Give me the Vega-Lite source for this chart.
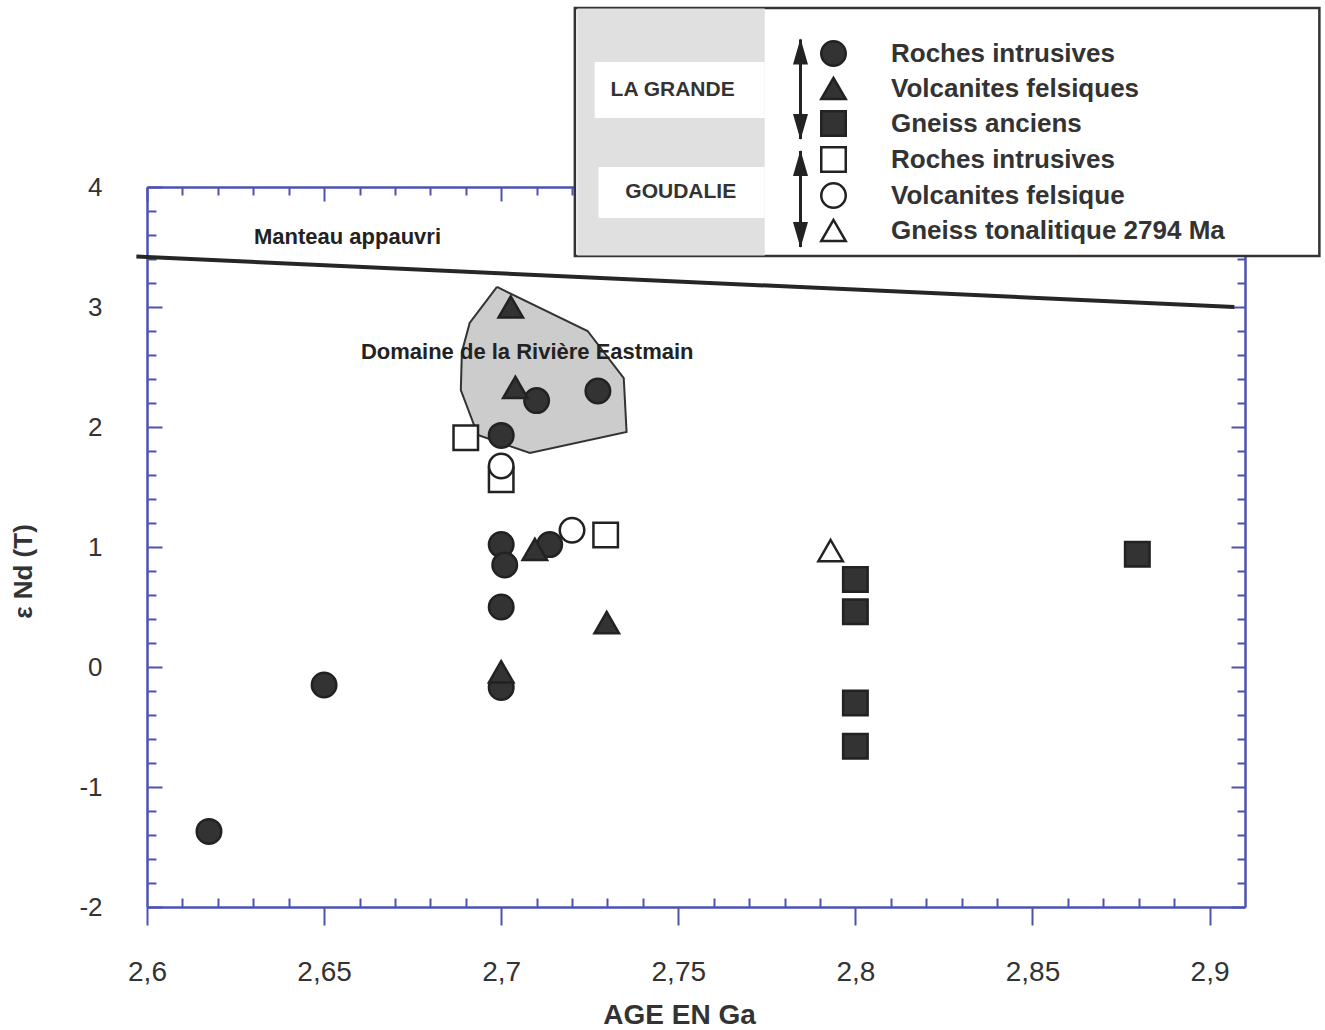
{
  "$schema": "https://vega.github.io/schema/vega-lite/v6.json",
  "width": 1098,
  "height": 720,
  "autosize": "none",
  "padding": {"left": 147, "top": 187, "right": 80, "bottom": 123},
  "background": "white",
  "config": {
    "view": {"stroke": null},
    "font": "Liberation Sans",
    "axis": {"grid": false, "labelFont": "Liberation Sans", "titleFont": "Liberation Sans", "domainColor": "#4b52b3", "tickColor": "#4b52b3", "domainWidth": 2.5, "tickWidth": 2},
    "legend": {"orient": "none", "legendX": 673, "legendY": -147, "direction": "vertical", "title": null, "padding": 0, "labelFont": "Liberation Sans", "labelFontSize": 26, "labelFontWeight": "bold", "labelColor": "#333333", "labelOffset": 44, "labelLimit": 0, "symbolSize": 600, "symbolStrokeWidth": 2.5, "rowPadding": 1}
  },
  "datasets": {
    "points": [
      {"age": 2.6175, "end": -1.37, "type": "LG|Roches intrusives"},
      {"age": 2.65, "end": -0.15, "type": "LG|Roches intrusives"},
      {"age": 2.7, "end": 1.93, "type": "LG|Roches intrusives"},
      {"age": 2.71, "end": 2.22, "type": "LG|Roches intrusives"},
      {"age": 2.7273, "end": 2.30, "type": "LG|Roches intrusives"},
      {"age": 2.7, "end": 1.02, "type": "LG|Roches intrusives"},
      {"age": 2.701, "end": 0.85, "type": "LG|Roches intrusives"},
      {"age": 2.7, "end": 0.5, "type": "LG|Roches intrusives"},
      {"age": 2.7, "end": -0.17, "type": "LG|Roches intrusives"},
      {"age": 2.7137, "end": 1.02, "type": "LG|Roches intrusives"},
      {"age": 2.7027, "end": 3.0, "type": "LG|Volcanites felsiques"},
      {"age": 2.704, "end": 2.33, "type": "LG|Volcanites felsiques"},
      {"age": 2.7095, "end": 0.98, "type": "LG|Volcanites felsiques"},
      {"age": 2.7298, "end": 0.37, "type": "LG|Volcanites felsiques"},
      {"age": 2.7, "end": -0.04, "type": "LG|Volcanites felsiques"},
      {"age": 2.8, "end": 0.73, "type": "LG|Gneiss anciens"},
      {"age": 2.8, "end": 0.46, "type": "LG|Gneiss anciens"},
      {"age": 2.8, "end": -0.30, "type": "LG|Gneiss anciens"},
      {"age": 2.8, "end": -0.66, "type": "LG|Gneiss anciens"},
      {"age": 2.8796, "end": 0.94, "type": "LG|Gneiss anciens"},
      {"age": 2.69, "end": 1.91, "type": "GO|Roches intrusives"},
      {"age": 2.7, "end": 1.56, "type": "GO|Roches intrusives"},
      {"age": 2.7295, "end": 1.10, "type": "GO|Roches intrusives"},
      {"age": 2.7, "end": 1.675, "type": "GO|Volcanites felsique"},
      {"age": 2.72, "end": 1.14, "type": "GO|Volcanites felsique"},
      {"age": 2.793, "end": 0.97, "type": "GO|Gneiss tonalitique 2794 Ma"}
    ],
    "domaine": [
      {"i": 0, "age": 2.6988, "end": 3.167},
      {"i": 1, "age": 2.7244, "end": 2.80},
      {"i": 2, "age": 2.7346, "end": 2.408},
      {"i": 3, "age": 2.7354, "end": 1.958},
      {"i": 4, "age": 2.7081, "end": 1.783},
      {"i": 5, "age": 2.6934, "end": 1.933},
      {"i": 6, "age": 2.6886, "end": 2.308},
      {"i": 7, "age": 2.6889, "end": 2.625},
      {"i": 8, "age": 2.6911, "end": 2.867},
      {"i": 9, "age": 2.6988, "end": 3.167}
    ],
    "manteau": [
      {"age": 2.597, "end": 3.42},
      {"age": 2.907, "end": 3.0}
    ],
    "notes": [
      {"age": 2.6302, "end": 3.58, "label": "Manteau appauvri"},
      {"age": 2.6604, "end": 2.625, "label": "Domaine de la Rivière Eastmain"}
    ],
    "box": [
      {"part": "frame", "x1": 2.7208, "x2": 2.931, "y1": 3.425, "y2": 5.492},
      {"part": "column", "x1": 2.7215, "x2": 2.7744, "y1": 3.43, "y2": 5.487},
      {"part": "blank", "x1": 2.7264, "x2": 2.7744, "y1": 4.575, "y2": 5.042},
      {"part": "blank", "x1": 2.7275, "x2": 2.7744, "y1": 3.742, "y2": 4.167}
    ],
    "groups": [
      {"age": 2.7484, "end": 4.808, "label": "LA GRANDE"},
      {"age": 2.7507, "end": 3.958, "label": "GOUDALIE"}
    ],
    "arrows": [
      {"age": 2.7845, "top": 5.23, "bottom": 4.40},
      {"age": 2.7845, "top": 4.30, "bottom": 3.50}
    ]
  },
  "resolve": {"axis": {"x": "independent", "y": "independent"}},
  "layer": [
    {
      "data": {"name": "domaine"},
      "mark": {"type": "line", "fill": "#cccccc", "stroke": "#333333", "strokeWidth": 2, "interpolate": "linear"},
      "encoding": {
        "x": {"field": "age", "type": "quantitative", "scale": {"domain": [2.6, 2.91], "nice": false, "zero": false},
          "axis": {"orient": "bottom", "values": [2.61,2.62,2.63,2.64,2.66,2.67,2.68,2.69,2.71,2.72,2.73,2.74,2.76,2.77,2.78,2.79,2.81,2.82,2.83,2.84,2.86,2.87,2.88,2.89], "tickSize": -9, "labels": false, "domain": false, "title": null}},
        "y": {"field": "end", "type": "quantitative", "scale": {"domain": [-2, 4], "nice": false, "zero": false},
          "axis": {"orient": "left", "values": [-1.8,-1.6,-1.4,-1.2,-0.8,-0.6,-0.4,-0.2,0.2,0.4,0.6,0.8,1.2,1.4,1.6,1.8,2.2,2.4,2.6,2.8,3.2,3.4,3.6,3.8], "tickSize": -9, "labels": false, "domain": false, "title": null}},
        "order": {"field": "i", "type": "quantitative"}
      }
    },
    {
      "data": {"name": "notes"},
      "mark": {"type": "text", "align": "left", "baseline": "middle", "font": "Liberation Sans", "fontSize": 22, "fontWeight": "bold", "color": "#222222"},
      "encoding": {
        "x": {"field": "age", "type": "quantitative", "scale": {"domain": [2.6, 2.91], "nice": false, "zero": false},
          "axis": {"orient": "top", "values": [2.61,2.62,2.63,2.64,2.66,2.67,2.68,2.69,2.71,2.72,2.73,2.74,2.76,2.77,2.78,2.79,2.81,2.82,2.83,2.84,2.86,2.87,2.88,2.89], "tickSize": -8, "labels": false, "domain": false, "title": null}},
        "y": {"field": "end", "type": "quantitative", "scale": {"domain": [-2, 4], "nice": false, "zero": false},
          "axis": {"orient": "right", "values": [-1.8,-1.6,-1.4,-1.2,-0.8,-0.6,-0.4,-0.2,0.2,0.4,0.6,0.8,1.2,1.4,1.6,1.8,2.2,2.4,2.6,2.8,3.2,3.4,3.6,3.8], "tickSize": -8, "labels": false, "domain": false, "title": null}},
        "text": {"field": "label"}
      }
    },
    {
      "data": {"name": "manteau"},
      "mark": {"type": "line", "color": "#262626", "strokeWidth": 4, "clip": false},
      "encoding": {
        "x": {"field": "age", "type": "quantitative", "scale": {"domain": [2.6, 2.91], "nice": false, "zero": false},
          "axis": {"orient": "top", "values": [2.6,2.65,2.7,2.75,2.8,2.85,2.9], "tickSize": -14, "labels": false, "title": null}},
        "y": {"field": "end", "type": "quantitative", "scale": {"domain": [-2, 4], "nice": false, "zero": false},
          "axis": {"orient": "right", "values": [-2,-1,0,1,2,3,4], "tickSize": -14, "labels": false, "title": null}}
      }
    },
    {
      "data": {"name": "points"},
      "mark": {"type": "point", "filled": true, "size": 600, "strokeWidth": 2.5, "opacity": 1},
      "encoding": {
        "x": {"field": "age", "type": "quantitative", "scale": {"domain": [2.6, 2.91], "nice": false, "zero": false},
          "axis": {"orient": "bottom", "values": [2.6,2.65,2.7,2.75,2.8,2.85,2.9], "tickSize": 18, "labelExpr": "replace(toString(datum.value), '.', ',')", "labelFontSize": 28, "labelColor": "#333333", "labelPadding": 33, "labelFlush": false, "labelOverlap": false, "title": "AGE EN Ga", "titleFontSize": 28, "titleFontWeight": "bold", "titleColor": "#333333", "titlePadding": 15, "titleX": 532}},
        "y": {"field": "end", "type": "quantitative", "scale": {"domain": [-2, 4], "nice": false, "zero": false},
          "axis": {"orient": "left", "values": [-2,-1,0,1,2,3,4], "tickSize": -15, "labelExpr": "toString(datum.value)", "labelFontSize": 26, "labelColor": "#333333", "labelPadding": 60, "labelFlush": false, "labelOverlap": false, "title": "ε Nd (T)", "titleFontSize": 26, "titleFontWeight": "bold", "titleColor": "#333333", "titlePadding": 42, "titleY": 384}},
        "fill": {"field": "type", "type": "nominal",
          "scale": {"domain": ["LG|Roches intrusives", "LG|Volcanites felsiques", "LG|Gneiss anciens", "GO|Roches intrusives", "GO|Volcanites felsique", "GO|Gneiss tonalitique 2794 Ma"], "range": ["#333333", "#333333", "#333333", "#ffffff", "#ffffff", "#ffffff"]},
          "legend": {"labelExpr": "split(datum.label, '|')[1]"}},
        "stroke": {"field": "type", "type": "nominal",
          "scale": {"domain": ["LG|Roches intrusives", "LG|Volcanites felsiques", "LG|Gneiss anciens", "GO|Roches intrusives", "GO|Volcanites felsique", "GO|Gneiss tonalitique 2794 Ma"], "range": ["#222222", "#222222", "#222222", "#222222", "#222222", "#222222"]},
          "legend": {"labelExpr": "split(datum.label, '|')[1]"}},
        "shape": {"field": "type", "type": "nominal",
          "scale": {"domain": ["LG|Roches intrusives", "LG|Volcanites felsiques", "LG|Gneiss anciens", "GO|Roches intrusives", "GO|Volcanites felsique", "GO|Gneiss tonalitique 2794 Ma"], "range": ["circle", "triangle-up", "square", "square", "circle", "triangle-up"]},
          "legend": {"labelExpr": "split(datum.label, '|')[1]"}}
      }
    },
    {
      "data": {"name": "box"},
      "transform": [{"filter": "datum.part === 'frame'"}],
      "mark": {"type": "rect", "fill": "#ffffff", "stroke": "#333333", "strokeWidth": 2.5, "clip": false},
      "encoding": {
        "x": {"field": "x1", "type": "quantitative", "axis": null},
        "x2": {"field": "x2"},
        "y": {"field": "y1", "type": "quantitative", "axis": null},
        "y2": {"field": "y2"}
      }
    },
    {
      "data": {"name": "box"},
      "transform": [{"filter": "datum.part === 'column'"}],
      "mark": {"type": "rect", "fill": "#e0e0e0", "clip": false},
      "encoding": {
        "x": {"field": "x1", "type": "quantitative", "axis": null},
        "x2": {"field": "x2"},
        "y": {"field": "y1", "type": "quantitative", "axis": null},
        "y2": {"field": "y2"}
      }
    },
    {
      "data": {"name": "box"},
      "transform": [{"filter": "datum.part === 'blank'"}],
      "mark": {"type": "rect", "fill": "#ffffff", "clip": false},
      "encoding": {
        "x": {"field": "x1", "type": "quantitative", "axis": null},
        "x2": {"field": "x2"},
        "y": {"field": "y1", "type": "quantitative", "axis": null},
        "y2": {"field": "y2"}
      }
    },
    {
      "data": {"name": "groups"},
      "mark": {"type": "text", "align": "center", "baseline": "middle", "font": "Liberation Sans", "fontSize": 21, "fontWeight": "bold", "color": "#333333", "clip": false},
      "encoding": {
        "x": {"field": "age", "type": "quantitative", "axis": null},
        "y": {"field": "end", "type": "quantitative", "axis": null},
        "text": {"field": "label"}
      }
    },
    {
      "data": {"name": "arrows"},
      "mark": {"type": "rule", "color": "#222222", "strokeWidth": 3, "clip": false},
      "encoding": {
        "x": {"field": "age", "type": "quantitative", "axis": null},
        "y": {"field": "top", "type": "quantitative", "axis": null},
        "y2": {"field": "bottom"}
      }
    },
    {
      "data": {"name": "arrows"},
      "mark": {"type": "point", "shape": "M0,-13L-7.5,13L7.5,13Z", "size": 4, "filled": true, "color": "#222222", "opacity": 1, "yOffset": 12, "clip": false},
      "encoding": {
        "x": {"field": "age", "type": "quantitative", "axis": null},
        "y": {"field": "top", "type": "quantitative", "axis": null}
      }
    },
    {
      "data": {"name": "arrows"},
      "mark": {"type": "point", "shape": "M0,13L-7.5,-13L7.5,-13Z", "size": 4, "filled": true, "color": "#222222", "opacity": 1, "yOffset": -12, "clip": false},
      "encoding": {
        "x": {"field": "age", "type": "quantitative", "axis": null},
        "y": {"field": "bottom", "type": "quantitative", "axis": null}
      }
    }
  ]
}
